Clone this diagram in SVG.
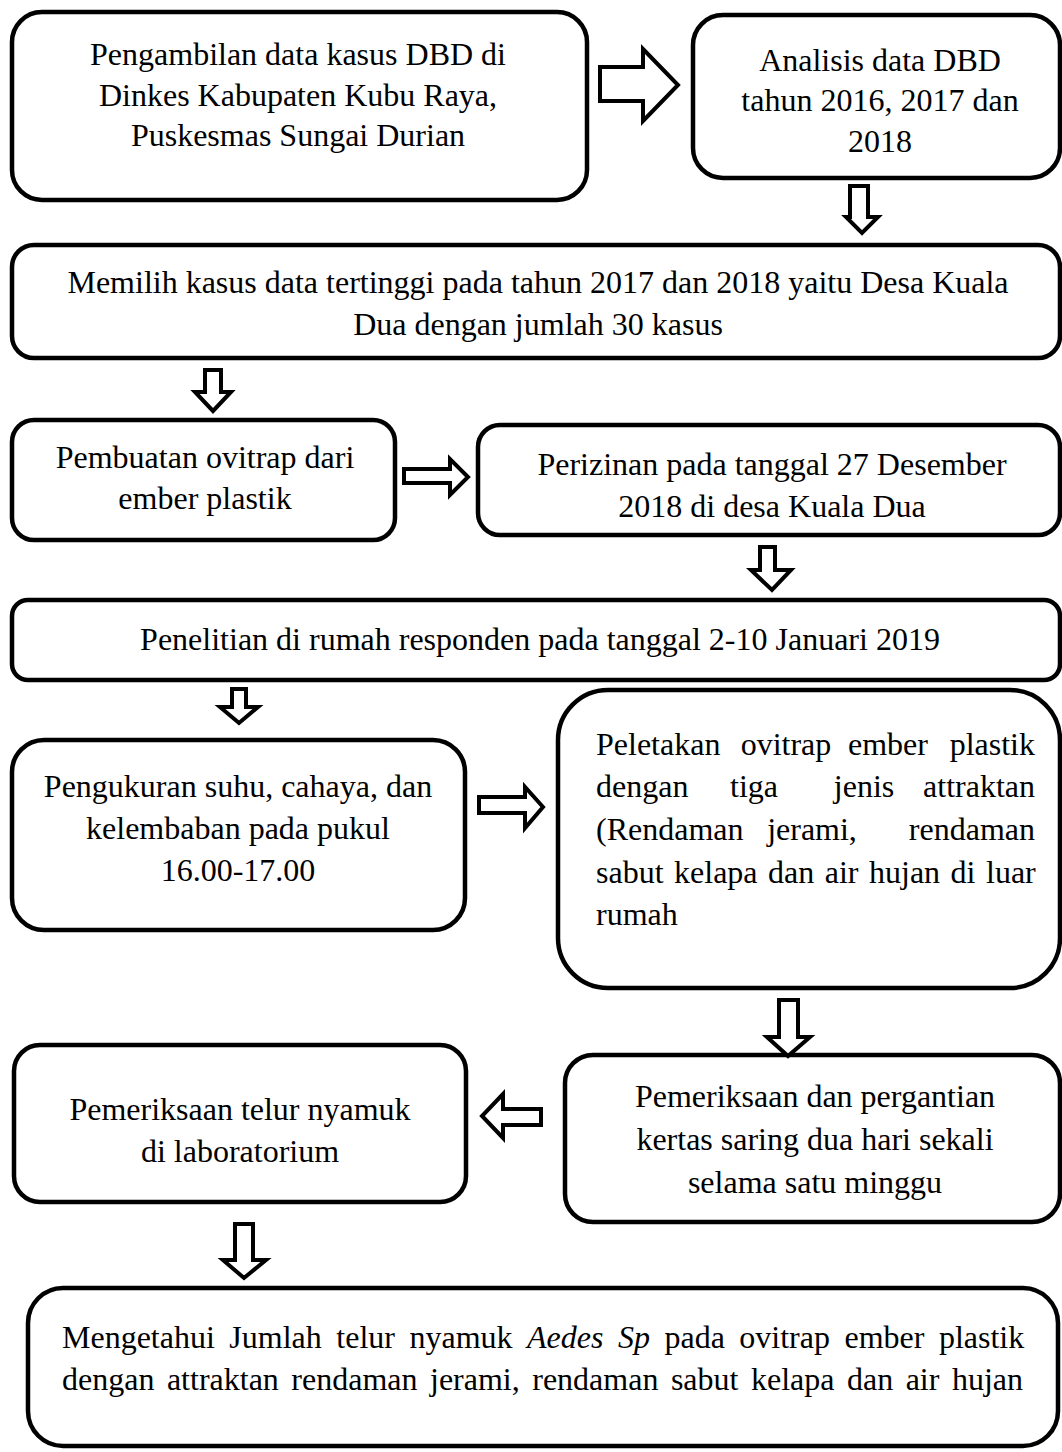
<svg xmlns="http://www.w3.org/2000/svg" width="1062" height="1452" viewBox="0 0 1062 1452">
<style>
.box{fill:#fff;stroke:#000;stroke-width:4.5}
.arr{fill:#fff;stroke:#000;stroke-width:4;stroke-linejoin:miter}
text{font-family:"Liberation Serif","Times New Roman",serif;font-size:32px;fill:#000}
.c{text-anchor:middle}
.e{text-anchor:end}
</style>
<rect width="1062" height="1452" fill="#fff"/>
<g id="n1"><rect class="box" x="12" y="12" width="575" height="188" rx="30"/>
<text class="c" x="298" y="65">Pengambilan data kasus DBD di</text>
<text class="c" x="298" y="106">Dinkes Kabupaten Kubu Raya,</text>
<text class="c" x="298" y="146">Puskesmas Sungai Durian</text></g>
<g id="n2"><rect class="box" x="693" y="15" width="367" height="163" rx="30"/>
<text class="c" x="880" y="71">Analisis data DBD</text>
<text class="c" x="880" y="111">tahun 2016, 2017 dan</text>
<text class="c" x="880" y="152">2018</text></g>
<g id="n3"><rect class="box" x="12" y="245" width="1048" height="113" rx="22"/>
<text class="c" x="538" y="293">Memilih kasus data tertinggi pada tahun 2017 dan 2018 yaitu Desa Kuala</text>
<text class="c" x="538" y="335">Dua dengan jumlah 30 kasus</text></g>
<g id="n4"><rect class="box" x="12" y="420" width="383" height="120" rx="22"/>
<text class="c" x="205" y="468">Pembuatan ovitrap dari</text>
<text class="c" x="205" y="509">ember plastik</text></g>
<g id="n5"><rect class="box" x="478" y="425" width="582" height="110" rx="22"/>
<text class="c" x="772" y="475">Perizinan pada tanggal  27 Desember</text>
<text class="c" x="772" y="517">2018  di desa Kuala Dua</text></g>
<g id="n6"><rect class="box" x="12" y="600" width="1048" height="80" rx="16"/>
<text class="c" x="540" y="650">Penelitian di rumah responden pada tanggal 2-10 Januari 2019</text></g>
<g id="n7"><rect class="box" x="12" y="740" width="453" height="190" rx="32"/>
<text class="c" x="238" y="797">Pengukuran suhu, cahaya, dan</text>
<text class="c" x="238" y="839">kelembaban pada pukul</text>
<text class="c" x="238" y="881">16.00-17.00</text></g>
<g id="n8"><rect class="box" x="558" y="690" width="502" height="298" rx="50"/>
<text x="596" y="755">Peletakan</text><text class="c" x="786" y="755">ovitrap</text><text class="c" x="888" y="755">ember</text><text class="e" x="1035" y="755">plastik</text>
<text x="596" y="797">dengan</text><text class="c" x="754" y="797">tiga</text><text class="c" x="864" y="797">jenis</text><text class="e" x="1035" y="797">attraktan</text>
<text x="596" y="840">(Rendaman</text><text class="c" x="812" y="840">jerami,</text><text class="e" x="1035" y="840">rendaman</text>
<text x="596" y="883" word-spacing="2.5">sabut kelapa dan air hujan di luar</text>
<text x="596" y="925">rumah</text></g>
<g id="n9"><rect class="box" x="14" y="1045" width="452" height="157" rx="26"/>
<text class="c" x="240" y="1120">Pemeriksaan telur nyamuk</text>
<text class="c" x="240" y="1162"> di laboratorium</text></g>
<g id="n10"><rect class="box" x="565" y="1055" width="495" height="167" rx="28"/>
<text class="c" x="815" y="1107">Pemeriksaan dan pergantian</text>
<text class="c" x="815" y="1150">kertas saring dua hari sekali</text>
<text class="c" x="815" y="1193">selama satu minggu</text></g>
<g id="n11"><rect class="box" x="28" y="1288" width="1030" height="158" rx="35"/>
<text x="62" y="1348" word-spacing="6.5">Mengetahui Jumlah telur nyamuk <tspan font-style="italic">Aedes Sp</tspan> pada ovitrap ember plastik</text>
<text x="62" y="1390" word-spacing="4.5">dengan attraktan rendaman jerami, rendaman sabut kelapa dan air hujan</text></g>
<g id="connectors">
<polygon class="arr" points="600,67 643,67 643,49 678,85 643,121 643,101 600,101"/>
<polygon class="arr" points="850,186 868,186 868,217 878,217 862,233 846,217 850,217"/>
<polygon class="arr" points="205,370 221,370 221,392 231,392 213,411 195,392 205,392"/>
<polygon class="arr" points="404,469 450,469 450,459 468,477 450,495 450,483 404,483"/>
<polygon class="arr" points="760,547 775,547 775,570 791,570 772,590 751,570 760,570"/>
<polygon class="arr" points="232,689 246,689 246,707 258,707 239,723 220,707 232,707"/>
<polygon class="arr" points="479,797 525,797 525,787 543,807 525,828 525,813 479,813"/>
<polygon class="arr" points="779,1000 798,1000 798,1037 810,1037 788,1056 767,1037 779,1037"/>
<polygon class="arr" points="541,1109 503,1109 503,1094 482,1116 503,1138 503,1125 541,1125"/>
<polygon class="arr" points="235,1224 253,1224 253,1260 266,1260 244,1278 223,1260 235,1260"/>
</g>
</svg>
